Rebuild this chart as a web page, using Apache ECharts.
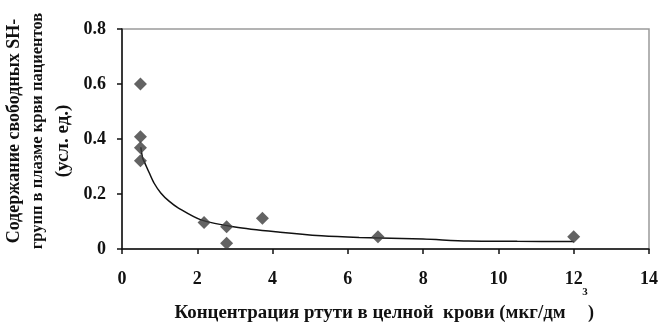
<!DOCTYPE html>
<html>
<head>
<meta charset="utf-8">
<script src="https://cdn.jsdelivr.net/npm/echarts@6/dist/echarts.min.js"></script>
<style>
  html, body { margin: 0; padding: 0; background: #fff; }
  #chart { width: 664px; height: 333px; }
</style>
</head>
<body>
<div id="chart"></div>
<script>
// measured points (mercury conc., SH-groups)
const hgConc = [0.49, 0.49, 0.49, 0.49, 2.18, 2.78, 2.78, 3.73, 6.8, 12.0];
const shValues = [0.6, 0.408, 0.368, 0.321, 0.096, 0.081, 0.021, 0.112, 0.045, 0.045];

// trend line
const trendX = [0.5, 0.55, 0.6, 0.72, 0.85, 1.03, 1.25, 1.5, 2.1, 3, 4.2, 5.3, 6.3, 8, 9.2, 10.5, 12];
const trendY = [0.37, 0.33, 0.315, 0.278, 0.24, 0.204, 0.174, 0.149, 0.106, 0.08, 0.061, 0.048, 0.042, 0.036, 0.029, 0.028, 0.027];

const yNameLines = ['Содержание свободных SH-', 'групп в плазме крви пациентов', '(усл. ед.)'];
const xName = 'Концентрация ртути в целной  крови (мкг/дм';

const font = '"Liberation Serif", "DejaVu Serif", serif';

var myChart = echarts.init(document.getElementById('chart'));

myChart.setOption({
  backgroundColor: '#fff',
  animation: false,
  grid: {
    left: 122, right: 15, top: 29, bottom: 84,
    show: true, borderColor: '#9a9a9a', borderWidth: 1.5
  },
  xAxis: {
    type: 'value', min: 0, max: 14, interval: 2,
    axisLine: { lineStyle: { color: '#111', width: 1.5 } },
    axisTick: { show: true, length: 5, lineStyle: { color: '#111', width: 1.5 } },
    axisLabel: { color: '#111', fontFamily: font, fontWeight: 'bold', fontSize: 18, margin: 21 },
    splitLine: { show: false }
  },
  yAxis: {
    type: 'value', min: 0, max: 0.8, interval: 0.2,
    axisLine: { show: true, lineStyle: { color: '#111', width: 1.5 } },
    axisTick: { show: true, length: 5, lineStyle: { color: '#111', width: 1.5 } },
    axisLabel: {
      color: '#111', fontFamily: font, fontWeight: 'bold', fontSize: 18, margin: 16,
      formatter: v => (v === 0 ? '0' : v.toFixed(1))
    },
    splitLine: { show: false }
  },
  series: [
    {
      type: 'line',
      data: trendX.map((x, i) => [x, trendY[i]]),
      smooth: 0.3,
      showSymbol: false,
      lineStyle: { color: '#111', width: 1.5 },
      z: 2
    },
    {
      type: 'scatter',
      data: hgConc.map((x, i) => [x, shValues[i]]),
      symbol: 'diamond',
      symbolSize: [13, 13],
      itemStyle: { color: '#3c3c3c' },
      z: 3
    }
  ],
  graphic: [
    {
      type: 'text', x: 14, y: 131, rotation: Math.PI / 2,
      style: { text: yNameLines[0], font: 'bold 18px ' + font, fill: '#111', align: 'center', verticalAlign: 'middle' }
    },
    {
      type: 'text', x: 38, y: 131, rotation: Math.PI / 2,
      style: { text: yNameLines[1], font: 'bold 16.5px ' + font, fill: '#111', align: 'center', verticalAlign: 'middle' }
    },
    {
      type: 'text', x: 63, y: 141, rotation: Math.PI / 2,
      style: { text: yNameLines[2], font: 'bold 19px ' + font, fill: '#111', align: 'center', verticalAlign: 'middle' }
    },
    {
      type: 'text', x: 370, y: 313, scaleX: 1.05,
      style: { text: xName, font: 'bold 18px ' + font, fill: '#111', align: 'center', verticalAlign: 'middle' }
    },
    {
      type: 'text', x: 585, y: 292,
      style: { text: '3', font: 'bold 11px ' + font, fill: '#111', align: 'center', verticalAlign: 'middle' }
    },
    {
      type: 'text', x: 591, y: 313,
      style: { text: ')', font: 'bold 18px ' + font, fill: '#111', align: 'center', verticalAlign: 'middle' }
    }
  ]
});
</script>
</body>
</html>
